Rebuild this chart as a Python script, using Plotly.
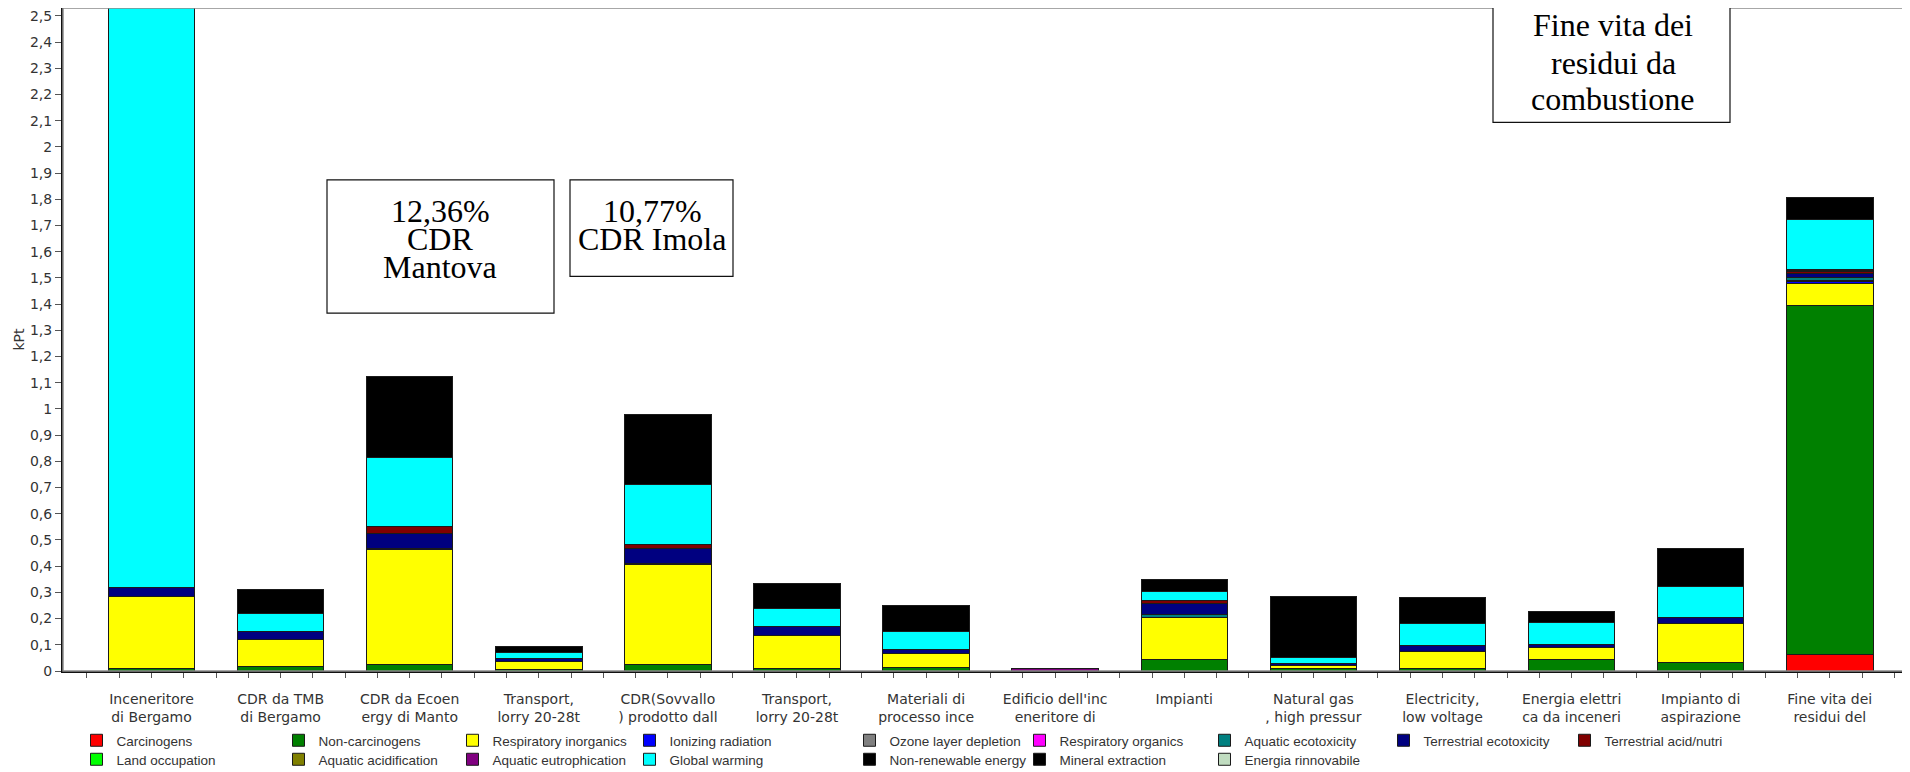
import plotly.graph_objects as go

# ---------------- data ----------------
categories = [
    "Inceneritore<br>di Bergamo",
    "CDR da TMB<br>di Bergamo",
    "CDR da Ecoen<br>ergy di Manto",
    "Transport,<br>lorry 20-28t",
    "CDR(Sovvallo<br>) prodotto dall",
    "Transport,<br>lorry 20-28t",
    "Materiali di<br>processo ince",
    "Edificio dell'inc<br>eneritore di",
    "Impianti",
    "Natural gas<br>, high pressur",
    "Electricity,<br>low voltage",
    "Energia elettri<br>ca da inceneri",
    "Impianto di<br>aspirazione",
    "Fine vita dei<br>residui del",
]

carcinogens            = [0, 0, 0, 0, 0, 0, 0, 0, 0, 0, 0, 0, 0, 0.062]
non_carcinogens        = [0.008, 0.016, 0.025, 0.004, 0.023, 0.008, 0.013, 0, 0.044, 0.011, 0.008, 0.044, 0.034, 1.333]
respiratory_inorganics = [0.277, 0.104, 0.437, 0.034, 0.382, 0.127, 0.053, 0, 0.162, 0.011, 0.068, 0.047, 0.149, 0.084]
ionizing_radiation     = [0, 0, 0.002, 0, 0.002, 0, 0, 0, 0, 0, 0, 0, 0, 0.008]
ozone_layer_depletion  = [0, 0, 0, 0, 0, 0, 0, 0, 0, 0, 0, 0, 0, 0.002]
respiratory_organics   = [0, 0, 0.004, 0, 0.004, 0, 0, 0, 0, 0, 0, 0, 0, 0.002]
aquatic_ecotoxicity    = [0, 0, 0, 0, 0, 0, 0, 0, 0.009, 0, 0, 0, 0, 0.012]
terrestrial_ecotox     = [0.035, 0.029, 0.057, 0.009, 0.057, 0.033, 0.016, 0, 0.044, 0.008, 0.021, 0.010, 0.022, 0.012]
terrestrial_acid       = [0, 0, 0.025, 0, 0.013, 0, 0, 0, 0.009, 0, 0, 0, 0, 0.010]
land_occupation        = [0, 0, 0, 0, 0, 0, 0, 0, 0, 0, 0, 0, 0, 0.002]
aquatic_acidification  = [0, 0, 0, 0, 0, 0, 0, 0, 0, 0, 0, 0, 0, 0.003]
aquatic_eutrophication = [0, 0, 0, 0, 0, 0, 0, 0.010, 0, 0, 0, 0, 0, 0.003]
global_warming         = [2.24, 0.072, 0.263, 0.022, 0.231, 0.072, 0.067, 0, 0.035, 0.021, 0.084, 0.085, 0.117, 0.190]
non_renewable_energy   = [0, 0.091, 0.309, 0.023, 0.266, 0.093, 0.101, 0, 0.046, 0.234, 0.101, 0.040, 0.145, 0.083]
mineral_extraction     = [0, 0, 0, 0, 0, 0, 0, 0, 0, 0, 0, 0, 0, 0]
energia_rinnovabile    = [0, 0, 0, 0, 0, 0, 0, 0, 0, 0, 0, 0, 0, 0]

# (name, values) in stacking order, bottom -> top
series = [
    ("Carcinogens", carcinogens),
    ("Non-carcinogens", non_carcinogens),
    ("Respiratory inorganics", respiratory_inorganics),
    ("Ionizing radiation", ionizing_radiation),
    ("Ozone layer depletion", ozone_layer_depletion),
    ("Respiratory organics", respiratory_organics),
    ("Aquatic ecotoxicity", aquatic_ecotoxicity),
    ("Terrestrial ecotoxicity", terrestrial_ecotox),
    ("Terrestrial acid/nutri", terrestrial_acid),
    ("Land occupation", land_occupation),
    ("Aquatic acidification", aquatic_acidification),
    ("Aquatic eutrophication", aquatic_eutrophication),
    ("Global warming", global_warming),
    ("Non-renewable energy", non_renewable_energy),
    ("Mineral extraction", mineral_extraction),
    ("Energia rinnovabile", energia_rinnovabile),
]

# ---------------- styles ----------------
colors = {
    "Carcinogens": "#FF0000",
    "Non-carcinogens": "#008000",
    "Respiratory inorganics": "#FFFF00",
    "Ionizing radiation": "#0000FF",
    "Ozone layer depletion": "#808080",
    "Respiratory organics": "#FF00FF",
    "Aquatic ecotoxicity": "#008080",
    "Terrestrial ecotoxicity": "#000080",
    "Terrestrial acid/nutri": "#800000",
    "Land occupation": "#00FF00",
    "Aquatic acidification": "#808000",
    "Aquatic eutrophication": "#800080",
    "Global warming": "#00FFFF",
    "Non-renewable energy": "#000000",
    "Mineral extraction": "#000000",
    "Energia rinnovabile": "#C0DCC0",
}
# legend column widths (px) – row 1 uses legend, row 2 uses legend2
col_widths = [202, 174, 177, 220, 170, 185, 179, 181, 230]

# The page body has an 8px margin: figure coordinates = screen coordinates - 8
W, H, OFF = 1902, 764, 8

x_idx = list(range(len(categories)))

fig = go.Figure()
for i, (name, vals) in enumerate(series):
    row2 = i >= 9
    col = i - 9 if row2 else i
    fig.add_trace(go.Bar(
        name=name,
        x=x_idx,
        y=[v if v else None for v in vals],
        width=0.67,
        marker=dict(color=colors[name], line=dict(color="#1a1a1a", width=1)),
        legend="legend2" if row2 else "legend",
        legendwidth=col_widths[col] - 45,
        hovertemplate="%{y}<extra>" + name + "</extra>",
    ))

tick_font = dict(family="DejaVu Sans", size=14, color="#333333")
legend_font = dict(family="Liberation Sans", size=13.5, color="#333333")

fig.update_layout(
    width=W, height=H,
    margin=dict(l=63 - OFF, r=2, t=8 - OFF, b=97),
    barmode="stack",
    paper_bgcolor="white", plot_bgcolor="white",
    separators=",.",
    font=tick_font,
    showlegend=True,
    legend=dict(orientation="h", xref="container", yref="container",
                x=(76.5 - OFF) / W, y=1 - (725 - OFF) / H, xanchor="left", yanchor="top",
                traceorder="normal", font=legend_font, bgcolor="rgba(0,0,0,0)"),
    legend2=dict(orientation="h", xref="container", yref="container",
                 x=(76.5 - OFF) / W, y=1 - (744 - OFF) / H, xanchor="left", yanchor="top",
                 traceorder="normal", font=legend_font, bgcolor="rgba(0,0,0,0)"),
    xaxis=dict(
        range=[-0.6855, 13.606],
        tickmode="array", tickvals=x_idx, ticktext=categories,
        ticks="outside", ticklen=5, tickcolor="#555555",
        minor=dict(dtick=0.25, tick0=0, ticks="outside", ticklen=5, tickcolor="#555555"),
        showline=True, linecolor="#111111", linewidth=2,
        showgrid=False, zeroline=False, tickfont=tick_font,
        ticklabelstandoff=9,
    ),
    yaxis=dict(
        range=[0, 2.530], tick0=0, dtick=0.1,
        ticks="outside", ticklen=6, tickcolor="#555555",
        showline=True, linecolor="#111111", linewidth=2,
        showgrid=False, zeroline=False, tickfont=tick_font,
        ticklabeloverflow="allow",
        title=dict(text="kPt", font=tick_font, standoff=2),
    ),
)

# plot frame (top/right thin gray lines)
fig.add_shape(type="rect", xref="paper", yref="paper", x0=0, x1=1, y0=0, y1=1,
              line=dict(color="#8a8a8a", width=1.5), layer="above")

# text boxes (positions given in screen pixels of the reference)
def px_x(p):
    return (p - 63) / 1845.0

def px_y(p):
    return (675 - p) / 667.0

boxes = [
    # (x0, x1, ytop, ybottom, text lines, centre x, line centres y)
    (327, 554, 181, 315, ["12,36%", "CDR", "Mantova"], 440, [212, 240.5, 269]),
    (570, 733, 181, 278, ["10,77%", "CDR Imola"], 652, [212, 240.5]),
    (1493, 1730, -10, 123, ["Fine vita dei", "residui da", "combustione"], 1613, [25, 63, 100]),
]
box_font = dict(family="Liberation Serif", size=32, color="#000000")
for x0, x1, yt, yb, lines, cx, lys in boxes:
    fig.add_shape(type="rect", xref="paper", yref="paper",
                  x0=px_x(x0), x1=px_x(x1), y0=px_y(yb), y1=px_y(yt),
                  line=dict(color="#111111", width=1.2), fillcolor="white", layer="above")
    for t, ly in zip(lines, lys):
        fig.add_annotation(xref="paper", yref="paper", x=px_x(cx), y=px_y(ly),
                           text=t, showarrow=False, font=box_font,
                           xanchor="center", yanchor="middle")

fig.write_html("out.html")
